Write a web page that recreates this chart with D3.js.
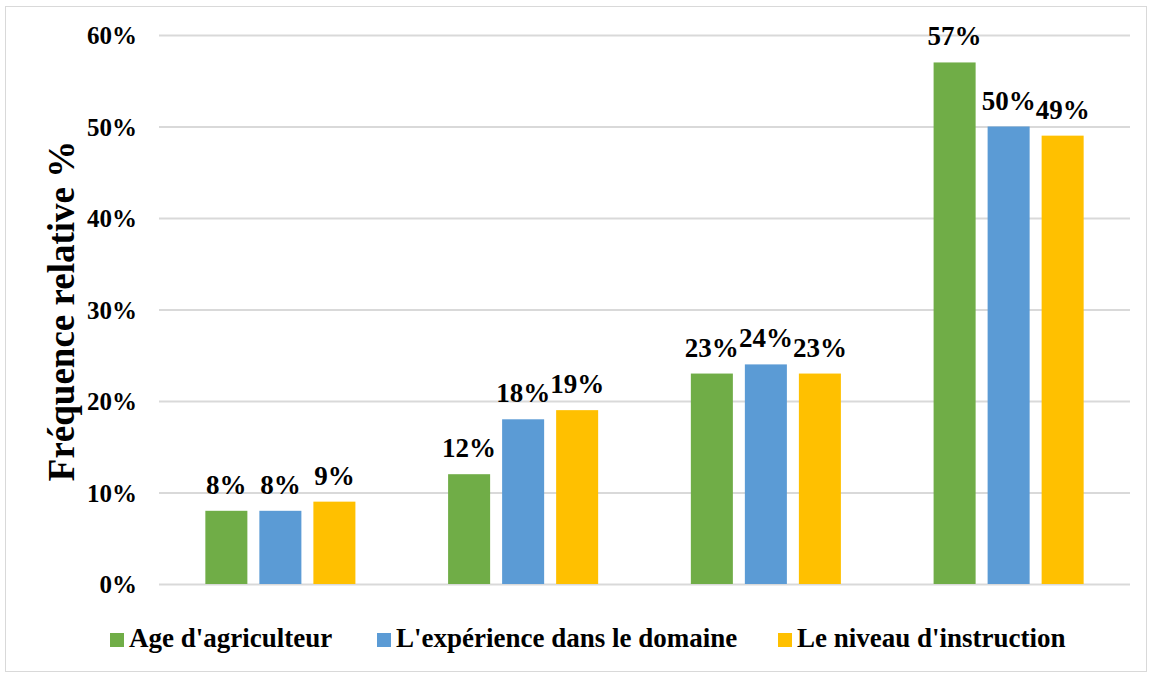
<!DOCTYPE html>
<html>
<head>
<meta charset="utf-8">
<script src="https://cdn.jsdelivr.net/npm/d3@7"></script>
<style>
  body { margin: 0; background: #fff; }
  text { font-family: "Liberation Serif", "Times New Roman", serif; font-weight: bold; fill: #000; }
</style>
</head>
<body>
<div id="chart"></div>
<script>
var width = 1150;
var height = 675;

// data
var groups = ["G1", "G2", "G3", "G4"];
var seriesNames = ["Age d'agriculteur", "L'expérience dans le domaine", "Le niveau d'instruction"];
var ageValues = [8, 12, 23, 57];
var experienceValues = [8, 18, 24, 50];
var instructionValues = [9, 19, 23, 49];
var yTicks = [0, 10, 20, 30, 40, 50, 60];
var colors = ["#70ad47", "#5b9bd5", "#ffc000"];

var allSeries = [ageValues, experienceValues, instructionValues];

var margin = { top: 35, right: 20, bottom: 91, left: 159 };
var plotRight = 1130;

var svg = d3.select("#chart").append("svg")
    .attr("width", width)
    .attr("height", height);

// outer frame
svg.append("rect")
    .attr("x", 5.5).attr("y", 6.5)
    .attr("width", 1141).attr("height", 665)
    .attr("fill", "none")
    .attr("stroke", "#d9d9d9")
    .attr("stroke-width", 1);

var x0 = d3.scaleBand()
    .domain(groups)
    .range([margin.left, plotRight])
    .paddingInner(0)
    .paddingOuter(0);

var x1 = d3.scaleBand()
    .domain(seriesNames)
    .range([0, x0.bandwidth()])
    .paddingInner(0.222)
    .paddingOuter(0.858);

var y = d3.scaleLinear()
    .domain([0, 60])
    .range([584, 35]);

// gridlines
svg.append("g").selectAll("line")
    .data(yTicks)
    .enter()
    .append("line")
    .attr("x1", margin.left)
    .attr("x2", plotRight)
    .attr("y1", function (d) { return y(d) + 0.5; })
    .attr("y2", function (d) { return y(d) + 0.5; })
    .attr("stroke", "#d9d9d9")
    .attr("stroke-width", 2);

// y axis labels
var axisLeft = d3.axisLeft(y)
    .tickValues(yTicks)
    .tickSize(0)
    .tickPadding(0)
    .tickFormat(function (d) { return d + "%"; });
var axisG = svg.append("g")
    .attr("transform", "translate(137,0)")
    .call(axisLeft);
axisG.select(".domain").remove();
axisG.selectAll("text")
    .attr("font-family", "Liberation Serif")
    .attr("font-weight", "bold")
    .style("font-size", "25px")
    .attr("fill", "#000")
    .attr("dy", "0.35em");

// axis title
svg.append("text")
    .attr("transform", "translate(74,311) rotate(-90)")
    .attr("text-anchor", "middle")
    .style("font-size", "37px")
    .text("Fréquence relative %");

// bars
var seriesData = seriesNames.map(function (name, i) {
    return { name: name, color: colors[i], values: allSeries[i] };
});

var seriesG = svg.selectAll(".series")
    .data(seriesData)
    .enter()
    .append("g")
    .attr("class", "series");

seriesG.selectAll("rect")
    .data(function (s) {
        return s.values.map(function (v, i) { return { name: s.name, group: groups[i], value: v, color: s.color }; });
    })
    .enter()
    .append("rect")
    .attr("x", function (d) { return x0(d.group) + x1(d.name); })
    .attr("y", function (d) { return y(d.value); })
    .attr("width", x1.bandwidth())
    .attr("height", function (d) { return y(0) - y(d.value); })
    .attr("fill", function (d) { return d.color; });

// value labels
seriesG.selectAll("text")
    .data(function (s) {
        return s.values.map(function (v, i) { return { name: s.name, group: groups[i], value: v }; });
    })
    .enter()
    .append("text")
    .attr("x", function (d) { return x0(d.group) + x1(d.name) + x1.bandwidth() / 2; })
    .attr("y", function (d) { return y(d.value) - 17; })
    .attr("text-anchor", "middle")
    .style("font-size", "27px")
    .text(function (d) { return d.value + "%"; });

// legend
var legendX = [110, 377, 778];
var legend = svg.selectAll(".legend")
    .data(seriesData)
    .enter()
    .append("g")
    .attr("class", "legend")
    .attr("transform", function (d, i) { return "translate(" + legendX[i] + ",633)"; });

legend.append("rect")
    .attr("width", 14)
    .attr("height", 14)
    .attr("fill", function (d) { return d.color; });

legend.append("text")
    .attr("x", 19)
    .attr("y", 14)
    .style("font-size", "27px")
    .text(function (d) { return d.name; });
</script>
</body>
</html>
